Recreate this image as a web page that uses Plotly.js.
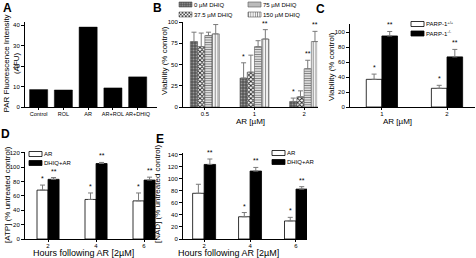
<!DOCTYPE html>
<html>
<head>
<meta charset="utf-8">
<script src="https://cdn.plot.ly/plotly-3.0.1.min.js"></script>
<style>html,body{margin:0;padding:0;background:#fff;}#chart{width:476px;height:258px;}</style>
</head>
<body>
<div id="chart"></div>
<script>
// ---- Data ----
var aCats = ['Control', 'ROL', 'AR', 'AR+ROL', 'AR+DHIQ'];
var aVals = [8.5, 8.3, 39, 9.3, 14.7];

var bCats = ['0.5', '1', '2'];
var bNames = ['0 µM DHIQ', '37.5 µM DHIQ', '75 µM DHIQ', '150 µM DHIQ'];
var b0 = [77, 34, 6.5], b0Err = [11, 18, 4];
var b37 = [71, 41, 12], b37Err = [16, 20, 7];
var b75 = [84, 71, 45], b75Err = [4, 7, 10];
var b150 = [86, 80, 77], b150Err = [11, 11, 12];
var bStars = [['', '*', '*'], ['', '', ''], ['', '', '**'], ['', '**', '**']];

var cCats = ['1', '2'];
var cNames = ['PARP-1<sup>+/+</sup>', 'PARP-1<sup>-/-</sup>'];
var cWT = [37, 25], cWTErr = [7, 4];
var cKO = [95, 67], cKOErr = [6, 10];
var cStars = [['*', '*'], ['**', '**']];

var dCats = ['2', '4', '6'];
var dNames = ['AR', 'DHIQ+AR'];
var dAR = [68, 55, 53], dARErr = [7, 9, 11];
var dDH = [83, 105, 82], dDHErr = [2.5, 1.5, 4];
var dStars = [['*', '*', '*'], ['**', '**', '**']];

var eCats = ['2', '4', '6'];
var eNames = ['AR', 'DHIQ+AR'];
var eAR = [76, 37, 30], eARErr = [15, 7, 6];
var eDH = [124, 113, 83], eDHErr = [9, 6, 4];
var eStars = [['', '*', '*'], ['**', '**', '**']];

// ---- Build ----
var FONT = 'Liberation Sans, Arial, sans-serif';
var W = 476, H = 258;
function px(x) { return x / W; }
function py(y) { return 1 - y / H; }

var traces = [];
var annotations = [];
var errColor = '#7a7a7a';

function errBar(arr) {
  return {type: 'data', symmetric: false, array: arr, arrayminus: arr.map(function(){return 0;}),
          color: errColor, thickness: 1, width: 2.5};
}

function addGroup(xa, ya, cats, series, errs, names, styles, barW, stars, legendIds) {
  var n = series.length;
  for (var i = 0; i < n; i++) {
    var off = -n * barW / 2 + i * barW;
    traces.push({
      type: 'bar', x: cats, y: series[i], xaxis: xa, yaxis: ya,
      name: names[i], width: barW, offset: off,
      marker: styles[i], error_y: errBar(errs[i]),
      showlegend: true, legend: legendIds[i], hoverinfo: 'skip'
    });
    for (var j = 0; j < cats.length; j++) {
      if (stars[i][j]) {
        annotations.push({
          xref: xa, yref: ya, x: j + off + barW / 2, y: series[i][j] + errs[i][j],
          text: stars[i][j], showarrow: false, yanchor: 'bottom', yshift: 1,
          font: {family: FONT, size: 7, color: '#000'}
        });
      }
    }
  }
}

// Panel A
traces.push({
  type: 'bar', x: aCats, y: aVals, xaxis: 'x', yaxis: 'y', width: 0.73,
  marker: {color: '#000', line: {color: '#000', width: 0.5}}, showlegend: false, hoverinfo: 'skip'
});

// Panel B
var bStyles = [
  {color: '#5a5a5a', line: {color: '#555', width: 0.6},
   pattern: {shape: '.', bgcolor: '#555', fgcolor: '#9a9a9a', size: 3, solidity: 0.35}},
  {color: '#fff', line: {color: '#555', width: 0.6},
   pattern: {shape: 'x', bgcolor: '#fff', fgcolor: '#222', size: 3, solidity: 0.5}},
  {color: '#fff', line: {color: '#555', width: 0.6},
   pattern: {shape: '-', bgcolor: '#fff', fgcolor: '#777', size: 2.4, solidity: 0.5}},
  {color: '#fff', line: {color: '#555', width: 0.6},
   pattern: {shape: '|', bgcolor: '#fff', fgcolor: '#8a8a8a', size: 2.8, solidity: 0.4}}
];
addGroup('x2', 'y2', bCats, [b0, b37, b75, b150], [b0Err, b37Err, b75Err, b150Err], bNames, bStyles,
         0.146, bStars, ['legend', 'legend2', 'legend3', 'legend4']);

var wStyle = {color: '#fff', line: {color: '#000', width: 0.8}};
var kStyle = {color: '#000', line: {color: '#000', width: 0.8}};
addGroup('x3', 'y3', cCats, [cWT, cKO], [cWTErr, cKOErr], cNames, [wStyle, kStyle], 0.24, cStars,
         ['legend5', 'legend6']);
addGroup('x4', 'y4', dCats, [dAR, dDH], [dARErr, dDHErr], dNames, [wStyle, kStyle], 0.23, dStars,
         ['legend7', 'legend8']);
addGroup('x5', 'y5', eCats, [eAR, eDH], [eARErr, eDHErr], eNames, [wStyle, kStyle], 0.25, eStars,
         ['legend9', 'legend10']);

// Panel letters
[['A', 7, 7.5], ['B', 157, 7.5], ['C', 320, 8.5], ['D', 5, 133.5], ['E', 160, 138.5]].forEach(function (p) {
  annotations.push({xref: 'paper', yref: 'paper', x: px(p[1]), y: py(p[2]), xanchor: 'center', yanchor: 'middle',
    text: '<b>' + p[0] + '</b>', showarrow: false, font: {family: FONT, size: 12, color: '#000'}});
});

// Axis titles (placed as text)
function title(text, x, y, size, angle) {
  annotations.push({xref: 'paper', yref: 'paper', x: px(x), y: py(y), xanchor: 'center', yanchor: 'middle',
    text: text, showarrow: false, textangle: angle || 0, borderpad: 0,
    font: {family: FONT, size: size, color: '#000'}});
}
title('PAR Fluorescence Intensity<br>(AFU)', 10.5, 64, 8, -90);
title('Viability (% control)', 165, 61, 8, -90);
title('AR [µM]', 250, 121.5, 8);
title('Viability (% control)', 331, 67, 8, -90);
title('AR [µM]', 397, 121.5, 8);
title('[ATP] (% untreated control)', 7, 195, 8, -90);
title('Hours following AR [2µM]', 83, 253, 9);
title('[NAD] (% untreated control)', 157, 194, 8, -90);
title('Hours following AR [2µM]', 228, 253, 9);

function xaxis(dom, range, anchor, fsize) {
  return {domain: dom, range: range, anchor: anchor, type: 'category', showline: true, linecolor: '#000',
    linewidth: 1, ticks: 'outside', ticklen: 2, tickwidth: 1, tickcolor: '#000', showgrid: false,
    zeroline: false, fixedrange: true, tickangle: 0, ticklabelstandoff: -1,
    tickfont: {family: FONT, size: fsize || 6, color: '#000'}, automargin: false};
}
function yaxis(dom, range, anchor, dtick) {
  return {domain: dom, range: range, anchor: anchor, showline: true, linecolor: '#000', linewidth: 1,
    ticks: 'outside', ticklen: 3, tickwidth: 1, tickcolor: '#000', showgrid: false, zeroline: false,
    dtick: dtick, tick0: 0, fixedrange: true, tickfont: {family: FONT, size: 6, color: '#000'},
    automargin: false};
}

function leg(x, y) {
  return {x: px(x), y: py(y), xanchor: 'left', yanchor: 'middle', bgcolor: 'rgba(0,0,0,0)',
    borderwidth: 0, font: {family: FONT, size: 6, color: '#000'}, itemwidth: 30, tracegroupgap: 0};
}

var layout = {
  width: W, height: H, margin: {l: 0, r: 0, t: 0, b: 0, pad: 0, autoexpand: false},
  paper_bgcolor: '#fff', plot_bgcolor: '#fff',
  barmode: 'group', showlegend: true, font: {family: FONT},
  xaxis: xaxis([px(25), px(157)], [-0.55, 4.78], 'y', 5.5),
  yaxis: yaxis([py(107), py(22)], [0, 41.5], 'x', 10),
  xaxis2: xaxis([px(183), px(318)], [-0.44, 2.28], 'y2'),
  yaxis2: yaxis([py(107), py(22)], [0, 100], 'x2', 25),
  xaxis3: xaxis([px(350), px(475)], [-0.49, 1.43], 'y3'),
  yaxis3: yaxis([py(107), py(24)], [0, 111], 'x3', 20),
  xaxis4: xaxis([px(25), px(157)], [-0.48, 2.27], 'y4'),
  yaxis4: yaxis([py(239), py(152)], [0, 121], 'x4', 20),
  xaxis5: xaxis([px(183), px(307)], [-0.46, 2.24], 'y5'),
  yaxis5: yaxis([py(239), py(153)], [0, 143], 'x5', 20),
  legend: leg(154, 4.5), legend2: leg(154, 14.5), legend3: leg(223, 4.5), legend4: leg(223, 14.5),
  legend5: leg(386, 24), legend6: leg(386, 33.5),
  legend7: leg(4, 154), legend8: leg(4, 163),
  legend9: leg(247, 153), legend10: leg(247, 162),
  annotations: annotations
};

Plotly.newPlot('chart', traces, layout, {staticPlot: true, displayModeBar: false}).then(function (gd) {
  gd.querySelectorAll('path.legendbar, .legendpoints path').forEach(function (p) {
    p.setAttribute('d', 'M18,2.5H5V-2.5H18Z');
  });
});
</script>
</body>
</html>
